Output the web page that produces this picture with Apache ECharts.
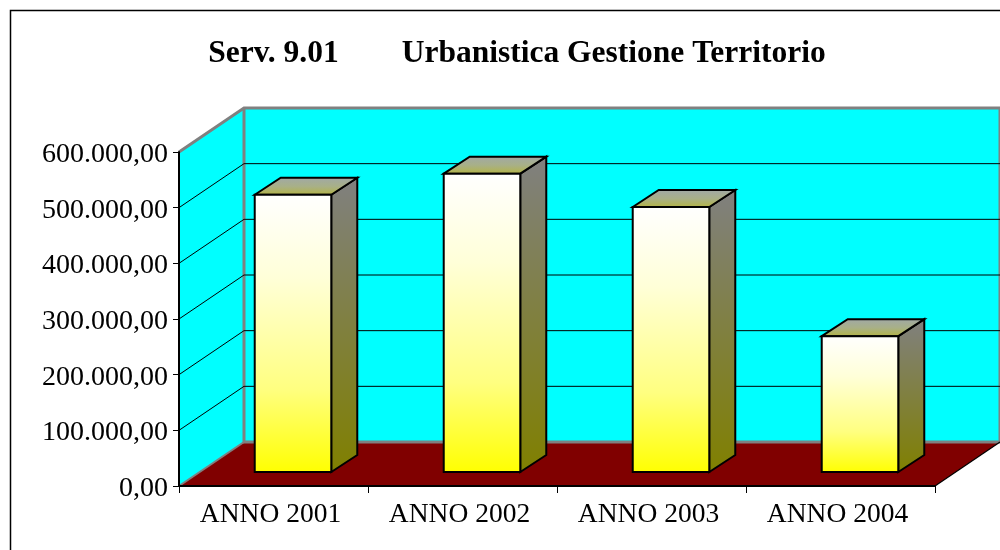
<!DOCTYPE html>
<html><head><meta charset="utf-8">
<style>html,body{margin:0;padding:0;background:#fff}#c{width:1000px;height:550px}</style>
<script src="https://cdn.jsdelivr.net/npm/echarts@6/dist/echarts.min.js"></script>
</head><body><div id="c"></div>
<script>
var titleText = "Serv. 9.01        Urbanistica Gestione Territorio";
var categories = ["ANNO 2001","ANNO 2002","ANNO 2003","ANNO 2004"];
var values = [498000,536000,476000,244000];
var yTicks = [100000,200000,300000,400000,500000];
var floorDx = 65, floorDy = 44;

function fmt(v){
  var s = String(Math.round(v)).replace(/\B(?=(\d{3})+$)/g,".");
  return "{a|" + s + ",00}";
}
function wallItem(params, api){
  var c = params.coordSys, x0=c.x, x1=c.x+c.width, y0=c.y, y1=c.y+c.height;
  var dx=floorDx, dy=floorDy;
  var edge={stroke:"#808080",lineWidth:3,fill:null};
  return {type:"group",children:[
    {type:"polygon",shape:{points:[[x0,y0],[x0+dx,y0-dy],[x0+dx,y1-dy],[x0,y1]]},style:{fill:"#00ffff"}},
    {type:"polygon",shape:{points:[[x0+dx,y0-dy],[x1+dx,y0-dy],[x1+dx,y1-dy],[x0+dx,y1-dy]]},style:{fill:"#00ffff"}},
    {type:"polygon",shape:{points:[[x0,y1],[x0+dx,y1-dy],[x1+dx,y1-dy],[x1,y1]]},style:{fill:"#800000"}},
    {type:"polyline",shape:{points:[[x0,y0],[x0+dx,y0-dy],[x1+dx,y0-dy],[x1+dx,y1-dy]]},style:edge},
    {type:"polyline",shape:{points:[[x0+dx,y0-dy],[x0+dx,y1-dy],[x1+dx,y1-dy]]},style:edge},
    {type:"line",shape:{x1:x0,y1:y1,x2:x0+dx,y2:y1-dy},style:{stroke:"#808080",lineWidth:2}},
    {type:"line",shape:{x1:x1,y1:y1,x2:x1+dx,y2:y1-dy},style:{stroke:"#000",lineWidth:1.2}}
  ]};
}
function gridItem(params, api){
  var c=params.coordSys, y=api.coord([0,api.value(1)])[1];
  var st={stroke:"#000",lineWidth:1,fill:null};
  return {type:"polyline",shape:{points:[[c.x,y],[c.x+floorDx,y-floorDy],[c.x+c.width+floorDx,y-floorDy]]},style:st};
}
function barItem(params, api){
  var i=api.value(0), v=api.value(1);
  var band=api.size([1,0])[0], w=band*0.405;
  var ox=19.5, oy=-14, bx=26, by=-17;
  var top=api.coord([i,v]), base=api.coord([i,0]);
  var l=top[0]+ox-w/2, r=l+w, t=top[1]+oy, b=base[1]+oy;
  var line={stroke:"#000",lineWidth:2,lineJoin:"miter"};
  function g(stops){return {type:"linear",x:0,y:0,x2:0,y2:1,colorStops:stops};}
  return {type:"group",children:[
    {type:"polygon",shape:{points:[[r,t],[r+bx,t+by],[r+bx,b+by],[r,b]]},
      style:Object.assign({fill:g([{offset:0,color:"#808080"},{offset:1,color:"#808000"}])},line)},
    {type:"polygon",shape:{points:[[l,t],[l+bx,t+by],[r+bx,t+by],[r,t]]},
      style:Object.assign({fill:g([{offset:0,color:"#a0a8a8"},{offset:0.5,color:"#a8b088"},{offset:1,color:"#b4b440"}])},line)},
    {type:"rect",shape:{x:l,y:t,width:w,height:b-t},
      style:Object.assign({fill:g([{offset:0,color:"#ffffff"},{offset:0.3,color:"#ffffd8"},{offset:0.7,color:"#ffff80"},{offset:1,color:"#ffff00"}])},line)}
  ]};
}
var chart=echarts.init(document.getElementById("c"),null,{renderer:"canvas"});
chart.setOption({
  animation:false,
  backgroundColor:"#fff",
  title:{text:titleText,left:512,textAlign:"center",top:33,
    textStyle:{fontFamily:"Liberation Serif",fontWeight:"bold",fontSize:31.5,color:"#000"}},
  graphic:[{type:"rect",z:-1,shape:{x:10.5,y:10.5,width:1100,height:700},style:{fill:"none",stroke:"#000",lineWidth:1.5}}],
  grid:{left:179,right:65,top:152,bottom:64},
  xAxis:{type:"category",data:categories,z:5,
    axisLine:{lineStyle:{color:"#000",width:2}},
    axisTick:{show:true,alignWithLabel:false,length:7,lineStyle:{color:"#000",width:1}},
    axisLabel:{fontFamily:"Liberation Serif",fontSize:27.5,color:"#000",margin:15,padding:[0,6,0,0]},
    splitLine:{show:false}},
  yAxis:{type:"value",min:0,max:600000,interval:100000,z:5,
    axisLine:{show:true,lineStyle:{color:"#000",width:2}},
    axisTick:{show:true,length:6,lineStyle:{color:"#000",width:1}},
    axisLabel:{color:"#000",margin:11,formatter:fmt,
      rich:{a:{fontFamily:"Liberation Serif",fontSize:28,color:"#000",padding:[5,0,0,0]}}},
    splitLine:{show:false}},
  series:[
    {type:"custom",z:1,clip:false,silent:true,renderItem:wallItem,data:[[0,0]],encode:{x:0,y:1}},
    {type:"custom",z:2,clip:false,silent:true,renderItem:gridItem,data:yTicks.map(function(v){return [0,v];}),encode:{x:0,y:1}},
    {type:"custom",z:3,clip:false,renderItem:barItem,data:values.map(function(v,i){return [i,v];}),encode:{x:0,y:1}}
  ]
});
</script></body></html>
